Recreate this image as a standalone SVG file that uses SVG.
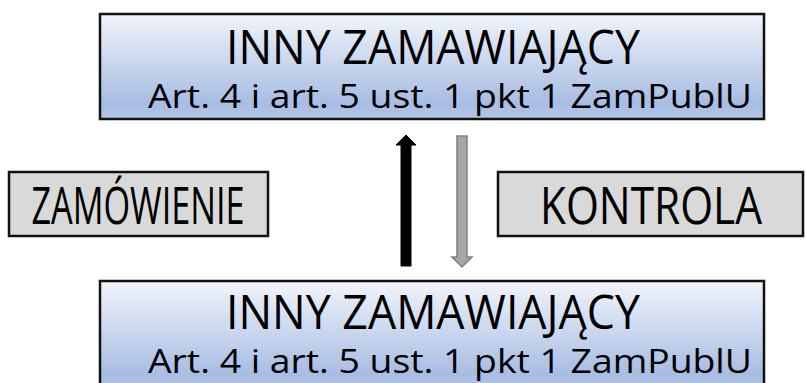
<svg xmlns="http://www.w3.org/2000/svg" width="806" height="383" viewBox="0 0 806 383">
<defs>
<linearGradient id="blue" x1="0" y1="0" x2="0" y2="1">
<stop offset="0" stop-color="#f1f4fb"/>
<stop offset="0.85" stop-color="#a8bde3"/>
<stop offset="1" stop-color="#b3c5e7"/>
</linearGradient>
<style>
.main{fill:url(#blue);stroke:#111;stroke-width:2.5}
.gray{fill:#d9d9d9;stroke:#111;stroke-width:2.5}
text{font-family:"Open Sans","DejaVu Sans",sans-serif;fill:#000;text-anchor:middle}
.t1{font-size:48px}
.t2{font-size:33px}
.t3{font-size:51px}
</style>
</defs>
<g id="top-node">
<rect class="main" x="100" y="14" width="664" height="105"/>
<text class="t1" x="433" y="64" textLength="414" lengthAdjust="spacingAndGlyphs">INNY ZAMAWIAJĄCY</text>
<text class="t2" x="450" y="108" textLength="604" lengthAdjust="spacingAndGlyphs">Art. 4 i art. 5 ust. 1 pkt 1 ZamPublU</text>
</g>
<g id="zamowienie">
<rect class="gray" x="9" y="172" width="259" height="64"/>
<text class="t3" x="138" y="224" textLength="213" lengthAdjust="spacingAndGlyphs">ZAMÓWIENIE</text>
</g>
<g id="kontrola">
<rect class="gray" x="498" y="172" width="305" height="64"/>
<text class="t3" x="651" y="224" textLength="222" lengthAdjust="spacingAndGlyphs">KONTROLA</text>
</g>
<g id="bottom-node">
<rect class="main" x="100" y="281" width="664" height="110"/>
<text class="t1" x="433" y="329" textLength="414" lengthAdjust="spacingAndGlyphs">INNY ZAMAWIAJĄCY</text>
<text class="t2" x="450" y="373" textLength="604" lengthAdjust="spacingAndGlyphs">Art. 4 i art. 5 ust. 1 pkt 1 ZamPublU</text>
</g>
<g id="connectors">
<polygon points="401,266 411,266 411,145 416,145 406,135 396,145 401,145" fill="#000" stroke="#000" stroke-width="1"/>
<polygon points="457,136 467,136 467,257 472,257 462,267 452,257 457,257" fill="#a6a6a6" stroke="#808080" stroke-width="1.5"/>
</g>
</svg>
